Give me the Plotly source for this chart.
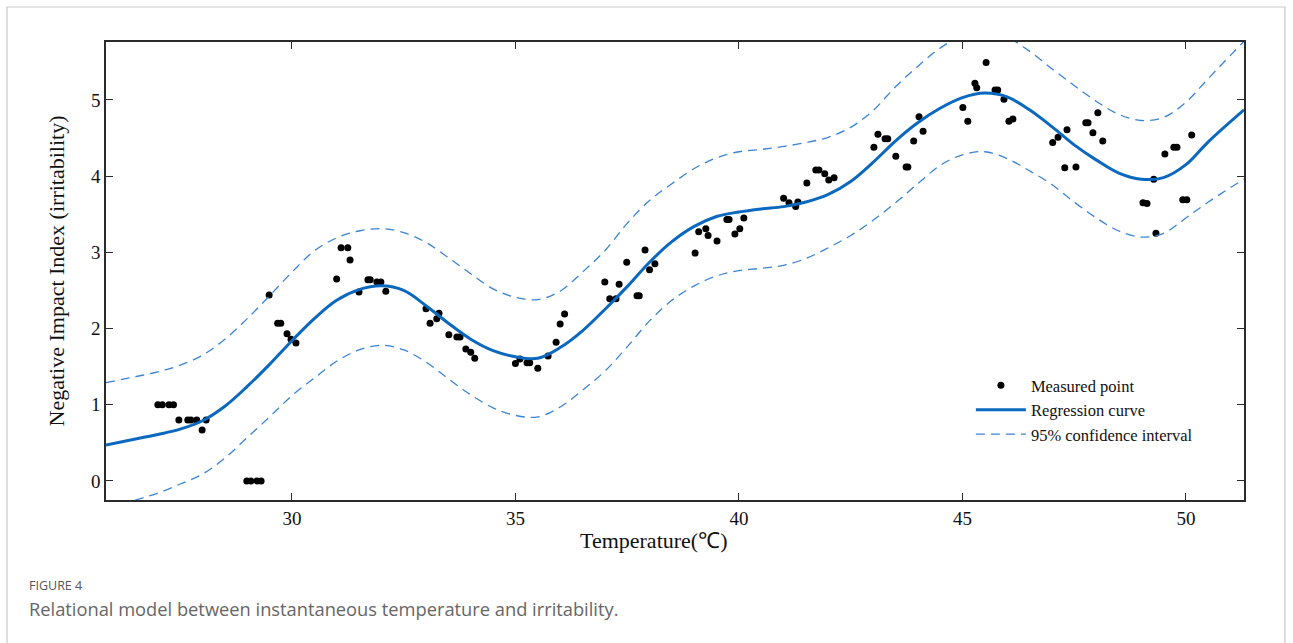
import plotly.graph_objects as go

# Measured points
pt_x = [27.0, 27.1, 27.25, 27.35,
        27.47, 27.67, 27.74, 27.87, 28.08, 27.99,
        28.99, 29.08, 29.22, 29.31,
        29.49, 29.68, 29.75, 29.89, 29.98, 30.09,
        31.10, 31.25, 31.30, 31.0, 31.7, 31.75, 31.9, 31.99, 31.5, 32.1,
        33.0, 33.29, 33.24, 33.09, 33.51, 33.69, 33.76, 33.89, 34.0, 34.09,
        35.0, 35.1, 35.26, 35.32, 35.5, 35.73, 35.91, 36.0, 36.1,
        37.0, 37.11, 37.25, 37.32, 37.49, 37.72, 37.77, 37.9, 38.0, 38.12,
        39.02, 39.1, 39.26, 39.31, 39.51, 39.73, 39.78, 39.91, 40.02, 40.11,
        41.0, 41.12, 41.27, 41.32, 41.52, 41.72, 41.79, 41.92, 42.01, 42.13,
        43.02, 43.11, 43.27, 43.33, 43.51, 43.74, 43.78, 43.91, 44.03, 44.12,
        45.01, 45.12, 45.28, 45.32, 45.53, 45.73, 45.79, 45.93, 46.04, 46.13,
        47.02, 47.14, 47.34, 47.29, 47.54, 47.76, 47.81, 47.92, 48.03, 48.14,
        49.04, 49.13, 49.28, 49.33, 49.53, 49.73, 49.8, 49.93, 50.02, 50.13]
pt_y = [1.0, 1.0, 1.0, 1.0,
        0.8, 0.8, 0.8, 0.8, 0.8, 0.67,
        0.0, 0.0, 0.0, 0.0,
        2.44, 2.07, 2.07, 1.93, 1.86, 1.81,
        3.06, 3.06, 2.90, 2.65, 2.64, 2.64, 2.61, 2.61, 2.48, 2.49,
        2.26, 2.20, 2.13, 2.07, 1.92, 1.89, 1.89, 1.73, 1.69, 1.61,
        1.54, 1.60, 1.55, 1.55, 1.48, 1.64, 1.82, 2.06, 2.19,
        2.61, 2.39, 2.39, 2.58, 2.87, 2.43, 2.43, 3.03, 2.77, 2.85,
        2.99, 3.27, 3.31, 3.22, 3.15, 3.43, 3.43, 3.24, 3.31, 3.45,
        3.71, 3.65, 3.60, 3.66, 3.91, 4.08, 4.08, 4.03, 3.95, 3.98,
        4.38, 4.55, 4.49, 4.49, 4.26, 4.12, 4.12, 4.46, 4.78, 4.59,
        4.90, 4.72, 5.22, 5.16, 5.49, 5.13, 5.13, 5.01, 4.72, 4.75,
        4.44, 4.51, 4.61, 4.11, 4.12, 4.70, 4.70, 4.57, 4.83, 4.46,
        3.65, 3.64, 3.96, 3.25, 4.29, 4.38, 4.38, 3.69, 3.69, 4.54]

# Curves
curve_x = [25.84, 26.5, 27, 27.5, 28, 28.5, 29, 29.5, 30, 30.5, 31, 31.5, 32, 32.5,
           33, 33.5, 34, 34.5, 35, 35.5, 36, 36.5, 37, 37.5, 38, 38.5, 39, 39.5,
           40, 40.5, 41, 41.5, 42, 42.5, 43, 43.5, 44, 44.5, 45, 45.5, 46, 46.5,
           47, 47.5, 48, 48.5, 49, 49.5, 50, 50.5, 51.3]
reg_y = [0.47, 0.55, 0.61, 0.68, 0.79, 0.98, 1.24, 1.53, 1.84, 2.13, 2.37, 2.51, 2.56, 2.50,
         2.30, 2.07, 1.86, 1.71, 1.63, 1.61, 1.75, 1.97, 2.25, 2.55, 2.87, 3.14, 3.34, 3.47,
         3.53, 3.57, 3.60, 3.66, 3.76, 3.93, 4.18, 4.46, 4.70, 4.89, 5.03, 5.09, 5.04, 4.87,
         4.65, 4.41, 4.21, 4.04, 3.96, 3.98, 4.15, 4.45, 4.87]
upper_y = [1.29, 1.37, 1.43, 1.52, 1.65, 1.86, 2.13, 2.43, 2.74, 3.02, 3.19, 3.28, 3.31, 3.26,
           3.13, 2.93, 2.72, 2.52, 2.41, 2.38, 2.49, 2.74, 3.02, 3.38, 3.68, 3.90, 4.10, 4.24,
           4.32, 4.35, 4.39, 4.44, 4.51, 4.64, 4.86, 5.17, 5.44, 5.68, 5.84, 5.88, 5.82, 5.64,
           5.41, 5.19, 4.98, 4.81, 4.73, 4.77, 4.97, 5.28, 5.77]
lower_y = [-0.36, -0.25, -0.16, -0.04, 0.09, 0.30, 0.57, 0.84, 1.12, 1.35, 1.57, 1.72, 1.78, 1.72,
           1.56, 1.34, 1.13, 0.96, 0.86, 0.84, 0.97, 1.19, 1.44, 1.76, 2.10, 2.37, 2.56, 2.69,
           2.76, 2.79, 2.83, 2.92, 3.06, 3.22, 3.42, 3.65, 3.90, 4.14, 4.28, 4.32, 4.23, 4.07,
           3.89, 3.66, 3.45, 3.28, 3.20, 3.25, 3.45, 3.66, 3.96]

x_ticks = [30, 35, 40, 45, 50]
y_ticks = [0, 1, 2, 3, 4, 5]

SERIF = "Liberation Serif, Times New Roman, serif"
SANS = "Open Sans, Noto Sans, sans-serif"
CI_COLOR = "#3b84d4"
REG_COLOR = "#0a68bf"

fig = go.Figure()
fig.add_trace(go.Scatter(x=pt_x, y=pt_y, mode="markers", name="Measured point",
                         marker=dict(color="black", size=7, line=dict(width=0))))
fig.add_trace(go.Scatter(x=curve_x, y=reg_y, mode="lines", name="Regression curve",
                         line=dict(color=REG_COLOR, width=3, shape="spline", smoothing=1.0)))
fig.add_trace(go.Scatter(x=curve_x, y=upper_y, mode="lines", name="95% confidence interval",
                         line=dict(color=CI_COLOR, width=1.3, dash="9px,6px", shape="spline", smoothing=1.0)))
fig.add_trace(go.Scatter(x=curve_x, y=lower_y, mode="lines", name="lower", showlegend=False,
                         line=dict(color=CI_COLOR, width=1.3, dash="9px,6px", shape="spline", smoothing=1.0)))

axis_common = dict(showline=True, linecolor="#2b2b2b", linewidth=1.5, mirror="ticks",
                   ticks="inside", ticklen=7, tickwidth=1.2, tickcolor="#2b2b2b",
                   showgrid=False, zeroline=False,
                   tickfont=dict(family=SERIF, size=19, color="#111"))

fig.update_xaxes(range=[25.84, 51.3], tickvals=x_ticks, ticktext=[str(v) for v in x_ticks],
                 **axis_common)
fig.update_yaxes(range=[-0.25, 5.76], tickvals=y_ticks, ticktext=[str(v) for v in y_ticks],
                 title=dict(text="Negative Impact Index (irritability)",
                            font=dict(family=SERIF, size=22, color="#111"), standoff=20),
                 **axis_common)

fig.update_layout(
    width=1293, height=643,
    margin=dict(l=106, r=49, t=42, b=143),
    paper_bgcolor="white", plot_bgcolor="white",
    showlegend=True,
    legend=dict(x=0.76, y=0.288, xanchor="left", yanchor="top",
                bgcolor="rgba(0,0,0,0)", itemwidth=50, tracegroupgap=0,
                font=dict(family=SERIF, size=16.5, color="#111")),
    shapes=[dict(type="rect", xref="paper", yref="paper",
                 x0=-0.087, x1=1.036, y0=-0.33, y1=1.0764,
                 line=dict(color="#c8c8c8", width=1.2), fillcolor="rgba(0,0,0,0)", layer="below")],
    annotations=[
        dict(text="Temperature(℃)", xref="paper", yref="paper", x=0.4815, y=-0.0895,
             xanchor="center", yanchor="middle", showarrow=False,
             font=dict(family=SERIF, size=22, color="#111")),
        dict(text="FIGURE 4", xref="paper", yref="paper", x=-0.0695, y=-0.186,
             xanchor="left", yanchor="middle", showarrow=False,
             font=dict(family=SANS, size=12.5, color="#555")),
        dict(text="Relational model between instantaneous temperature and irritability.",
             xref="paper", yref="paper", x=-0.0695, y=-0.236,
             xanchor="left", yanchor="middle", showarrow=False,
             font=dict(family=SANS, size=18.3, color="#666")),
    ],
)

fig.write_html("out.html")
